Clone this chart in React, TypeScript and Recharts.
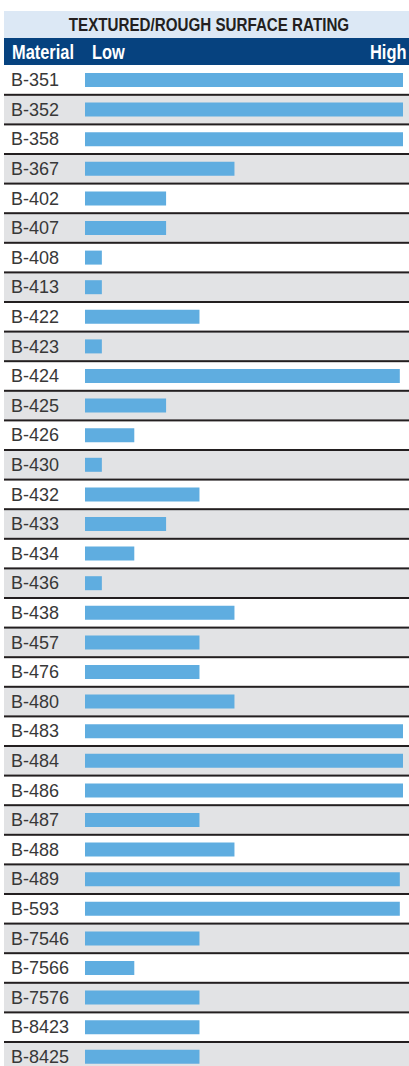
import React from 'react';
import { BarChart, Bar, XAxis, YAxis } from 'recharts';

// rows of the table, top to bottom
const materials = [
  'B-351', 'B-352', 'B-358', 'B-367', 'B-402', 'B-407', 'B-408', 'B-413',
  'B-422', 'B-423', 'B-424', 'B-425', 'B-426', 'B-430', 'B-432', 'B-433',
  'B-434', 'B-436', 'B-438', 'B-457', 'B-476', 'B-480', 'B-483', 'B-484',
  'B-486', 'B-487', 'B-488', 'B-489', 'B-593', 'B-7546', 'B-7566', 'B-7576',
  'B-8423', 'B-8425',
];

// rating on a 0 (low) .. 100 (high) scale
const ratings = [
  100, 100, 100, 47, 25.5, 25.5, 5.3, 5.3,
  36, 5.3, 99, 25.5, 15.5, 5.3, 36, 25.5,
  15.5, 5.3, 47, 36, 36, 47, 100, 100,
  100, 36, 47, 99, 99, 36, 15.5, 36,
  36, 36,
];

const scaleLabels = ['Low', 'High'];

const data = materials.map((name, i) => ({ name, rating: ratings[i] }));

const ROW_H = 29.6;
const CHART_H = ROW_H * materials.length;
const headFont = '"Liberation Sans", Arial, Helvetica, sans-serif';

// Helvetica Condensed look-alike: squeeze a bold sans horizontally
const narrow = (origin: string): React.CSSProperties => ({
  display: 'inline-block',
  transform: 'scaleX(0.82)',
  transformOrigin: origin,
  whiteSpace: 'nowrap',
});

// full-width striped row with a dark rule on top
const RowBackground = (props: any) => {
  const { y, height, index } = props;
  const top = y + height / 2 - ROW_H / 2;
  return (
    <g>
      <rect x={4} y={top} width={405} height={ROW_H} fill={index % 2 ? '#e2e3e5' : '#ffffff'} />
      {index > 0 && <rect x={4} y={top - 1} width={405} height={2} fill="#231f20" />}
    </g>
  );
};

const MaterialTick = (props: any) => {
  const { y, payload } = props;
  return (
    <text x={11} y={y + 6.5} fontSize={18} fill="#383838" fontFamily={headFont} textAnchor="start">
      {payload.value}
    </text>
  );
};

export default function App() {
  return (
    <div style={{ position: 'absolute', left: 0, top: 0, width: 409, height: 1066, overflow: 'hidden', background: '#fff' }}>
      <div
        style={{
          position: 'absolute', left: 4, top: 11, width: 405, height: 27,
          background: '#dce8f5', color: '#231f20', fontFamily: headFont,
          fontWeight: 700, fontSize: 18.5, lineHeight: '28px', textAlign: 'center',
        }}
      >
        <span style={{ ...narrow('center'), marginLeft: 4 }}>TEXTURED/ROUGH SURFACE RATING</span>
      </div>
      <div
        style={{
          position: 'absolute', left: 4, top: 38, width: 405, height: 27,
          background: '#06427f', color: '#ffffff', fontFamily: headFont,
          fontWeight: 700, fontSize: 20, lineHeight: '28px',
        }}
      >
        <span style={{ ...narrow('left'), position: 'absolute', left: 8 }}>Material</span>
        <span style={{ ...narrow('left'), position: 'absolute', left: 88 }}>{scaleLabels[0]}</span>
        <span style={{ ...narrow('right'), position: 'absolute', right: 3 }}>{scaleLabels[1]}</span>
      </div>
      <div style={{ position: 'absolute', left: 0, top: 65 }}>
        <BarChart
          width={409}
          height={CHART_H}
          data={data}
          layout="vertical"
          margin={{ top: 0, right: 6, bottom: 0, left: 0 }}
          barCategoryGap={0}
        >
          <XAxis type="number" domain={[0, 100]} hide />
          <Bar
            dataKey="rating"
            fill="#5fade0"
            barSize={14}
            background={<RowBackground />}
            isAnimationActive={false}
          />
          <YAxis
            type="category"
            dataKey="name"
            width={85}
            axisLine={false}
            tickLine={false}
            interval={0}
            tick={<MaterialTick />}
          />
        </BarChart>
      </div>
    </div>
  );
}
